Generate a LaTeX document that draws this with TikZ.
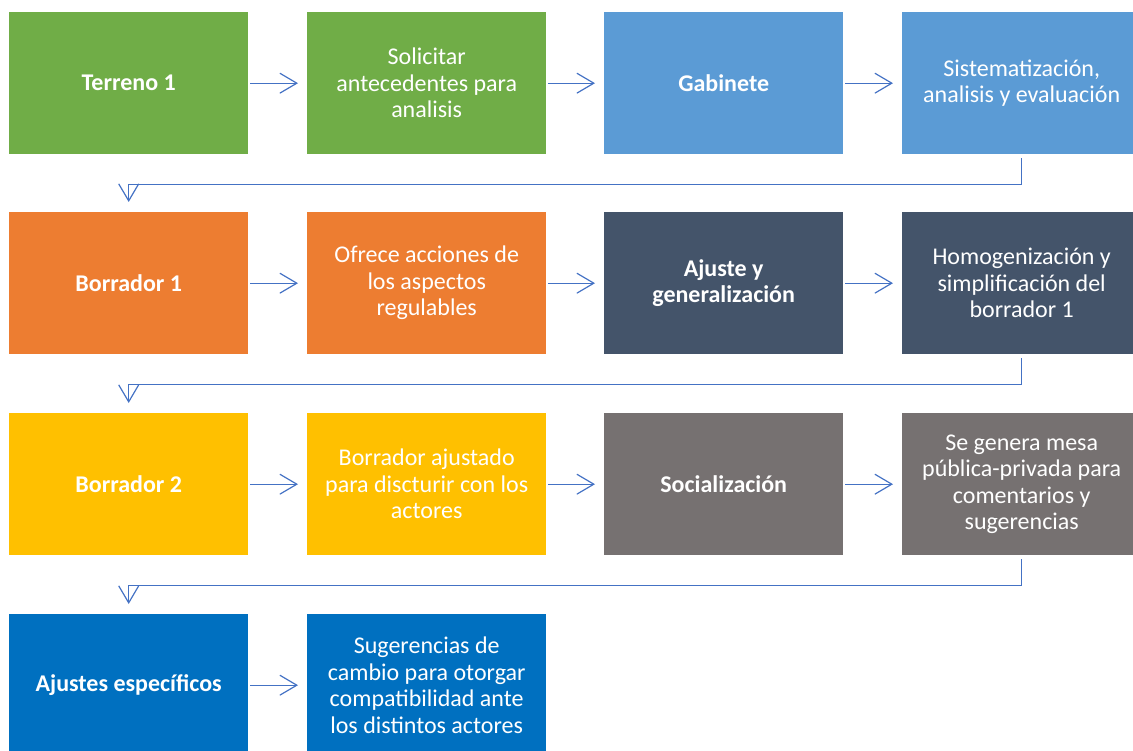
\documentclass[tikz,border=0pt]{standalone}
\usepackage{fontspec}
\setmainfont{Carlito}
\usetikzlibrary{arrows.meta}
\definecolor{cgreen}{HTML}{70AD47}
\definecolor{clblue}{HTML}{5B9BD5}
\definecolor{corange}{HTML}{ED7D31}
\definecolor{cslate}{HTML}{44546A}
\definecolor{cgold}{HTML}{FFC000}
\definecolor{cgray}{HTML}{767171}
\definecolor{cblue}{HTML}{0070C0}
\definecolor{carrow}{HTML}{4472C4}
\begin{document}
\begin{tikzpicture}[x=1pt,y=-1pt,
  box/.style={anchor=north west, minimum width=239pt, minimum height=142pt, inner sep=0pt,
    align=center, text=white, font=\fontsize{24}{26.5}\selectfont},
  bbox/.style={box, font=\fontsize{24}{26.5}\selectfont\bfseries},
  conn/.style={draw=carrow, line width=1.2pt, -{Straight Barb[length=17pt,width=20pt,line width=1.2pt]}},
  hconn/.style={conn, shorten <=2pt, shorten >=9pt},
  vconn/.style={conn, shorten <=4pt, shorten >=10pt}]
\useasboundingbox (0,0) rectangle (1133,751);
\clip (0,0) rectangle (1133,751);
% row 1
\node[bbox, fill=cgreen] (t1) at (9,12) {Terreno 1};
\node[box, fill=cgreen] (sol) at (307,12) {Solicitar\\antecedentes para\\analisis};
\node[bbox, fill=clblue] (gab) at (604,12) {Gabinete};
\node[box, fill=clblue] (sis) at (902,12) {Sistematización,\\analisis y evaluación};
% row 2
\node[bbox, fill=corange] (b1) at (9,212) {Borrador 1};
\node[box, fill=corange] (ofr) at (307,212) {Ofrece acciones de\\los aspectos\\regulables};
\node[bbox, fill=cslate] (aju) at (604,212) {Ajuste y\\generalización};
\node[box, fill=cslate] (hom) at (902,212) {Homogenización y\\simplificación del\\borrador 1};
% row 3
\node[bbox, fill=cgold] (b2) at (9,413) {Borrador 2};
\node[box, fill=cgold] (baj) at (307,413) {Borrador ajustado\\para discturir con los\\actores};
\node[bbox, fill=cgray] (soc) at (604,413) {Socialización};
\node[box, fill=cgray] (mesa) at (902,413) {Se genera mesa\\pública-privada para\\comentarios y\\sugerencias};
% row 4
\node[bbox, fill=cblue] (ae) at (9,614) {Ajustes específicos};
\node[box, fill=cblue] (sug) at (307,614) {Sugerencias de\\cambio para otorgar\\compatibilidad ante\\los distintos actores};
% horizontal connectors
\draw[hconn] (t1) -- (sol);
\draw[hconn] (sol) -- (gab);
\draw[hconn] (gab) -- (sis);
\draw[hconn] (b1) -- (ofr);
\draw[hconn] (ofr) -- (aju);
\draw[hconn] (aju) -- (hom);
\draw[hconn] (b2) -- (baj);
\draw[hconn] (baj) -- (soc);
\draw[hconn] (soc) -- (mesa);
\draw[hconn] (ae) -- (sug);
% elbow connectors
\draw[vconn] (sis.south) -- ++(0,30) -| (b1.north);
\draw[vconn] (hom.south) -- ++(0,30) -| (b2.north);
\draw[vconn] (mesa.south) -- ++(0,30) -| (ae.north);
\end{tikzpicture}
\end{document}
